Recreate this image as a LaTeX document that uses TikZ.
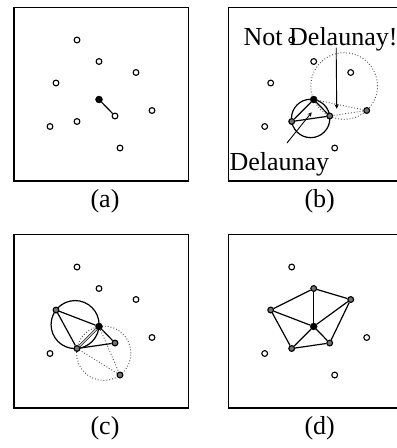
\documentclass[tikz,border=0pt]{standalone}
\usepackage{fontspec}
\setmainfont{Liberation Serif}
\usetikzlibrary{calc, arrows, backgrounds}

% circle through three named points
\newcommand{\circumcircle}[4][]{%
  \coordinate (mpq) at ($(#2)!0.5!(#3)$);
  \coordinate (npq) at ($(mpq)!10pt!90:(#3)$);
  \coordinate (mqr) at ($(#3)!0.5!(#4)$);
  \coordinate (nqr) at ($(mqr)!10pt!90:(#4)$);
  \coordinate (cc) at (intersection of mpq--npq and mqr--nqr);
  \draw[#1] let \p1 = ($(#2)-(cc)$), \n1 = {veclen(\x1,\y1)} in (cc) circle [radius=\n1];
}

\begin{document}
\begin{tikzpicture}[
        x=1pt, y=-1pt,
        site/.style={circle, draw, line width=1.1pt, fill=white, inner sep=0pt, minimum size=5.8pt},
        marked/.style={site, fill=black!55},
        centre/.style={circle, draw, fill=black, inner sep=0pt, minimum size=7pt},
        link/.style={line width=1.2pt},
        flip/.style={dotted, line width=0.9pt, black!70},
        panel/.style={draw, line width=1.2pt},
        panellabel/.style={font=\fontsize{26}{30}\selectfont, anchor=base, inner sep=0pt},
        arrow/.style={->, >=stealth, line width=0.9pt}
    ]
    \useasboundingbox (0,0) rectangle (397,448);
    \clip (0,0) rectangle (397,448);

    % Panel (a): the new point
    \begin{scope}[shift={(14,7.5)}]
        \draw[panel] (0,0) rectangle (174.5,173.5);
        \foreach \n/\x/\y/\s in {A/63/32.5/site, B/85/54/site, C/122/65/site, D/42/75.5/site, E/85/92/centre,
                                 F/138/103/site, G/101/108.5/site, H/63/114/site, I/36/119/site, J/106/140.5/site}
            \node[\s] (a\n) at (\x,\y) {};
        \draw[link] (aE) -- (aG);
        \node[panellabel] (alabel) at (91,200) {(a)};
    \end{scope}

    % Panel (b): empty circle test
    \begin{scope}[shift={(228.7,7.5)}]
        \draw[panel] (0,0) rectangle (174.5,173.5);
        \foreach \n/\x/\y/\s in {A/63/32.5/site, B/85/54/site, C/122/65/site, D/42/75.5/site, E/85/92/centre,
                                 F/138/103/marked, G/101/108.5/marked, H/63/114/marked, I/36/119/site, J/106/140.5/site}
            \node[\s] (b\n) at (\x,\y) {};
        \begin{scope}[on background layer]
            \circumcircle[link]{bE}{bH}{bG}
            \circumcircle[flip]{bE}{bG}{bF}
        \end{scope}
        \draw[link] (bE) -- (bH) -- (bG) -- (bE);
        \draw[flip] (bE) -- (bF) -- (bG);
        \node[panellabel, anchor=base west] (bnot) at (14.8,37.5) {Not Delaunay!};
        \node[panellabel, anchor=base west] (bdel) at (0.6,162.5) {Delaunay};
        \coordinate (bgood) at (barycentric cs:bE=1,bH=1,bG=1);
        \coordinate (bbad) at (barycentric cs:bE=1,bG=1,bF=1);
        \coordinate (bdtail) at (58.3,135.5);
        \coordinate (bntail) at (107.5,40);
        \draw[arrow] (bdtail) -- (bgood);
        \draw[arrow] (bntail) -- (bbad);
        \node[panellabel] (blabel) at (91,200) {(b)};
    \end{scope}

    % Panel (c): edge flip
    \begin{scope}[shift={(14,234.5)}]
        \draw[panel] (0,0) rectangle (174.5,173.5);
        \foreach \n/\x/\y/\s in {A/63/32.5/site, B/85/54/site, C/122/65/site, D/42/75.5/marked, E/85/92/centre,
                                 F/138/103/site, G/101/108.5/marked, H/63/114/marked, I/36/119/site, J/106/140.5/marked}
            \node[\s] (c\n) at (\x,\y) {};
        \begin{scope}[on background layer]
            \circumcircle[link]{cD}{cE}{cH}
            \circumcircle[flip]{cE}{cH}{cJ}
        \end{scope}
        \draw[link] (cD) -- (cE) -- (cG) -- (cH) -- (cD);
        \draw[link, line width=0.7pt, double, double distance=0.9pt] (cE) -- (cH);
        \draw[flip] (cE) -- (cJ) -- (cH);
        \node[panellabel] (clabel) at (91,200) {(c)};
    \end{scope}

    % Panel (d): result
    \begin{scope}[shift={(228.7,234.5)}]
        \draw[panel] (0,0) rectangle (174.5,173.5);
        \foreach \n/\x/\y/\s in {A/63/32.5/site, B/85/54/marked, C/122/65/marked, D/42/75.5/marked, E/85/92/centre,
                                 F/138/103/site, G/101/108.5/marked, H/63/114/marked, I/36/119/site, J/106/140.5/site}
            \node[\s] (d\n) at (\x,\y) {};
        \draw[link] (dD) -- (dB) -- (dC) -- (dG) -- (dH) -- (dD);
        \foreach \m in {B,C,D,G,H}
            \draw[link] (dE) -- (d\m);
        \node[panellabel] (dlabel) at (91,200) {(d)};
    \end{scope}

\end{tikzpicture}
\end{document}
